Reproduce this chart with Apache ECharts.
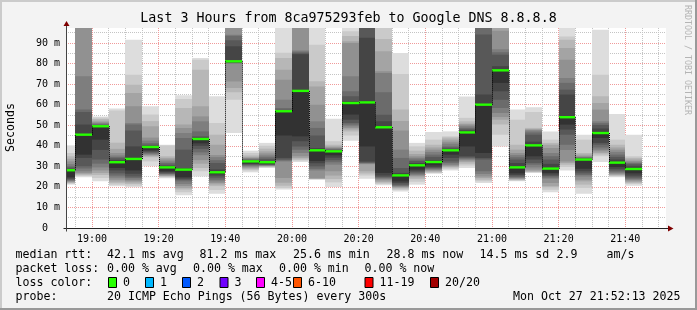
<!DOCTYPE html>
<html><head><meta charset="utf-8">
<script src="https://cdn.jsdelivr.net/npm/echarts@6/dist/echarts.min.js"></script>
<style>html,body{margin:0;padding:0;background:#f3f3f3}#c{width:697px;height:310px}</style>
</head><body><div id="c"></div>
<script>
const chartTitle = 'Last 3 Hours from 8ca975293feb to Google DNS 8.8.8.8';
const yAxisTitle = 'Seconds';
const sideText = 'RRDTOOL / TOBI OETIKER';
const xRange = ['18:52:13', '21:52:13'];
const yMax = 97.3;
const bucketMinutes = 5;
const bucketStarts = ['18:50','18:55','19:00','19:05','19:10','19:15','19:20','19:25','19:30','19:35','19:40','19:45','19:50','19:55',
  '20:00','20:05','20:10','20:15','20:20','20:25','20:30','20:35','20:40','20:45','20:50','20:55',
  '21:00','21:05','21:10','21:15','21:20','21:25','21:30','21:35','21:40'];
// 20 sorted ping RTTs (ms) per 5-minute step; index 10 is the median
const pings = [
  [21.1,21.5,21.9,22.2,22.5,22.9,23.2,23.6,24.1,24.7,28.1,28.7,29.4,30.0,31.1,32.4,33.7,34.9,36.5,40.2],
  [24.7,25.3,25.8,26.3,26.8,27.6,28.9,30.0,34.1,35.7,45.4,50.3,56.4,57.6,73.8,100,110,120,135,160],
  [22.7,24.3,25.8,26.7,28.0,29.5,31.3,33.3,38.0,43.0,49.5,49.8,50.1,50.5,51.0,51.5,52.2,53.0,53.8,54.3],
  [20.3,21.0,21.8,22.6,23.5,24.5,25.5,26.6,28.0,29.2,32.0,33.0,33.9,34.5,35.3,36.5,38.5,41.5,57.2,58.1],
  [19.8,20.6,21.4,22.1,22.7,23.5,24.3,25.1,26.4,28.0,33.6,39.7,47.4,50.3,51.1,59.2,65.7,69.7,74.6,91.6],
  [30.0,32.4,34.4,34.9,35.4,35.8,36.3,36.8,37.3,37.8,39.4,39.8,40.5,41.3,42.5,44.0,49.5,52.0,55.2,59.2],
  [24.2,24.7,25.0,25.3,25.6,26.0,26.3,26.6,27.1,27.6,29.5,30.2,30.8,31.6,32.4,33.3,34.1,34.9,40.2,40.5],
  [15.9,17.4,18.7,19.5,20.4,21.4,22.7,23.4,24.0,24.7,28.4,29.2,38.1,43.8,46.2,48.7,50.3,58.4,62.8,64.6],
  [25.1,27.6,29.2,31.3,33.0,35.4,36.8,38.5,40.0,41.2,43.3,44.0,44.6,47.0,51.9,54.3,59.2,77.0,81.9,82.7],
  [16.7,18.5,20.4,21.2,21.9,22.7,23.5,24.5,25.5,26.3,27.1,28.5,31.6,33.0,34.5,35.5,40.5,45.4,51.1,64.1],
  [46.2,62.4,66.0,68.1,71.3,80.0,80.2,80.4,80.6,80.8,81.1,88.4,91.3,93.5,94.0,100,105,110,115,120],
  [27.1,28.0,28.5,29.0,29.5,30.0,30.4,30.8,31.1,31.5,32.4,32.7,33.0,33.4,33.8,34.1,34.6,35.3,36.5,37.6],
  [29.2,29.5,29.8,30.0,30.2,30.4,30.6,30.8,31.0,31.3,32.0,32.6,33.6,34.4,35.3,36.3,37.3,38.6,40.0,41.4],
  [18.7,19.5,20.5,22.0,24.3,32.4,32.8,33.3,34.1,45.0,56.8,57.1,57.5,58.4,62.4,72.1,77.0,82.7,85.2,105],
  [32.1,32.8,33.3,34.1,34.9,36.5,38.1,39.7,42.2,44.6,66.7,84.5,85.0,85.7,86.3,100,105,110,115,120],
  [23.5,23.7,23.9,24.0,24.2,28.0,28.8,30.0,31.5,32.6,37.8,38.9,45.0,48.7,51.9,60.0,68.9,71.4,89.2,100],
  [20.0,22.2,23.8,25.5,27.6,30.8,32.0,33.0,34.2,35.4,37.3,37.6,38.0,38.3,38.8,39.2,39.7,40.5,42.2,53.2],
  [42.5,45.0,47.0,47.9,48.7,49.5,50.3,51.1,52.7,55.2,60.8,61.6,64.1,66.5,73.8,90.0,90.8,93.4,95.7,98.0],
  [24.0,25.5,26.5,27.6,31.0,31.3,31.6,31.9,32.4,39.7,61.1,92.5,100,105,110,115,120,125,130,135],
  [20.8,21.4,22.0,22.5,23.2,23.8,24.3,24.8,25.6,26.8,49.0,51.9,55.1,66.0,75.4,76.2,86.0,92.0,100,105],
  [17.8,18.5,19.1,19.5,19.9,20.3,20.6,21.1,21.9,22.7,25.6,26.8,29.2,34.1,38.1,47.4,52.0,57.6,74.9,85.1],
  [21.1,22.5,23.8,24.6,25.3,25.8,26.4,27.0,27.6,28.4,30.5,31.6,32.6,33.3,34.1,34.9,36.0,37.6,39.7,41.4],
  [26.4,26.8,27.1,27.6,28.0,28.4,28.8,29.2,29.7,30.5,32.1,33.0,34.6,35.7,37.0,38.1,39.2,40.5,43.0,46.7],
  [28.0,28.8,29.4,29.8,30.3,30.8,31.6,32.4,34.1,35.7,37.8,38.5,39.1,39.7,41.0,42.0,43.0,44.0,44.6,47.0],
  [29.2,30.4,31.3,32.1,32.8,33.3,33.8,34.3,34.9,39.7,46.5,47.4,48.0,48.7,49.5,50.3,50.8,51.9,53.6,64.0],
  [21.9,22.7,23.5,24.3,25.1,26.3,27.6,33.3,34.1,36.5,60.0,64.9,94.1,100,105,110,115,120,125,130],
  [39.7,45.4,50.3,52.7,54.0,56.0,58.4,62.4,66.5,70.6,76.7,78.7,84.3,85.5,87.0,96.0,100,105,110,115],
  [22.7,23.0,23.4,23.7,24.0,24.3,24.7,25.1,25.8,26.6,29.5,31.6,33.3,34.4,35.5,36.5,38.1,40.5,52.7,57.6],
  [26.8,27.1,27.4,27.6,28.4,29.5,30.8,31.6,33.3,34.9,40.2,42.0,45.4,46.5,47.4,47.8,48.2,48.7,56.4,58.7],
  [17.4,18.6,19.8,20.4,21.9,24.0,24.6,25.3,26.0,26.8,28.9,31.2,33.3,34.9,36.5,38.9,40.5,41.4,43.0,47.0],
  [28.0,29.7,30.8,31.6,32.4,38.0,40.5,45.4,47.9,50.3,53.9,64.9,67.3,70.6,73.0,81.9,87.6,91.6,93.2,100],
  [16.7,19.5,21.1,22.7,23.5,25.0,25.8,26.6,27.6,28.8,33.3,33.6,34.0,34.3,34.6,34.9,35.7,36.5,43.0,45.4],
  [32.1,34.9,35.7,36.5,37.3,38.1,39.2,40.5,41.4,43.8,46.2,48.4,50.1,51.0,51.9,57.6,60.8,64.1,74.6,96.5],
  [24.7,25.1,25.5,25.8,26.3,26.8,27.4,28.0,28.8,29.7,31.8,33.3,34.6,35.7,37.0,38.1,39.2,40.5,43.0,55.5],
  [20.6,21.4,21.9,22.4,23.0,23.5,24.0,24.6,25.5,26.6,28.7,30.0,31.0,31.5,31.9,32.6,33.3,34.1,34.9,45.4]
];
const smokeShades = ['#dddddd','#cacaca','#b7b7b7','#a4a4a4','#919191','#7e7e7e','#6b6b6b','#585858','#454545','#323232'];
const xMajorLabels = ['19:00','19:20','19:40','20:00','20:20','20:40','21:00','21:20','21:40'];
const yMajorTicks = [0,10,20,30,40,50,60,70,80,90];
const yMinorTicks = [5,15,25,35,45,55,65,75,85,95];
const lossLabels = ['0','1','2','3','4-5','6-10','11-19','20/20'];
const lossColors = ['#26ff00','#00b8ff','#0059ff','#7000ff','#ff00ff','#ff5500','#ff0000','#a10000'];
const rttStats = ['42.1 ms avg','81.2 ms max','25.6 ms min','28.8 ms now','14.5 ms sd','2.9','am/s'];
const lossStats = ['0.00 % avg','0.00 % max','0.00 % min','0.00 % now'];
const probeText = '20 ICMP Echo Pings (56 Bytes) every 300s';
const stampText = 'Mon Oct 27 21:52:13 2025';

const toMin = s => { const p = s.split(':').map(Number); return p[0]*60 + p[1] + (p[2]||0)/60; };
const fmtMin = m => { const h = Math.floor(m/60), mm = Math.round(m - h*60); return String(h).padStart(2,'0') + ':' + String(mm).padStart(2,'0'); };
const xMin = toMin(xRange[0]), xMax = toMin(xRange[1]);
const xMajor = xMajorLabels.map(toMin);
const xMinor = [];
for (let m = toMin('18:55'); m <= toMin('21:50'); m += 5) if (xMajor.indexOf(m) < 0) xMinor.push(m);

const seriesData = bucketStarts.map((s, i) => [toMin(s), toMin(s) + bucketMinutes].concat(pings[i]));

const MONO = '"DejaVu Sans Mono", monospace';
const LEG = '11.6px ' + MONO;

function renderBucket(params, api) {
  const cs = params.coordSys;
  const s = api.value(0), e = api.value(1);
  let x0 = Math.round(api.coord([s, 0])[0]);
  let x1 = Math.round(api.coord([e, 0])[0]);
  x0 = Math.max(x0, Math.round(cs.x) + 1);
  x1 = Math.min(x1, Math.round(cs.x + cs.width));
  if (x1 <= x0) return null;
  const yOf = v => api.coord([s, Math.max(0, Math.min(yMax, v))])[1];
  const kids = [];
  for (let k = 0; k < 10; k++) {
    const lo = api.value(2 + k), hi = api.value(21 - k);
    const ya = yOf(hi), yb = yOf(lo);
    if (yb - ya <= 0) continue;
    kids.push({type: 'rect', shape: {x: x0, y: ya, width: x1 - x0, height: yb - ya}, style: {fill: smokeShades[k]}});
  }
  const ym = yOf(api.value(12));
  kids.push({type: 'line', shape: {x1: x0, y1: ym, x2: x1, y2: ym}, style: {stroke: lossColors[0], lineWidth: 2.4}});
  if (params.dataIndex > 0) {
    const yp = yOf(pings[params.dataIndex - 1][10]);
    kids.push({type: 'line', shape: {x1: x0 + 0.5, y1: yp, x2: x0 + 0.5, y2: ym}, style: {stroke: '#000', lineWidth: 1, lineDash: [1, 1]}});
  }
  return {type: 'group', children: kids};
}

function txt(text, x, y, opt) {
  opt = opt || {};
  return {type: 'text', x: x, y: y, rotation: opt.rot || 0, silent: true, z: 10,
    style: {text: text, font: opt.font || LEG, fill: opt.fill || '#000',
      textAlign: opt.align || 'left', align: opt.align || 'left',
      textVerticalAlign: 'middle', verticalAlign: 'middle'}};
}

const graphics = [];
// frame
graphics.push({type:'rect', shape:{x:0,y:0,width:697,height:2}, style:{fill:'#cbcbcb'}, silent:true});
graphics.push({type:'rect', shape:{x:0,y:0,width:2,height:310}, style:{fill:'#cbcbcb'}, silent:true});
graphics.push({type:'rect', shape:{x:0,y:308,width:697,height:2}, style:{fill:'#999999'}, silent:true});
graphics.push({type:'rect', shape:{x:695,y:0,width:2,height:310}, style:{fill:'#999999'}, silent:true});
graphics.push(txt(chartTitle, 348.5, 19, {font: '13.3px ' + MONO, align: 'center'}));
graphics.push(txt(yAxisTitle, 10.5, 127.5, {rot: Math.PI/2, align: 'center'}));
graphics.push(txt(sideText, 687, 60, {rot: -Math.PI/2, align: 'center', font: '8.3px ' + MONO, fill: '#b4b4b4'}));
// legend lines
const rttX = [107, 199.5, 293, 386.5, 479.5, 556.5, 606.5];
graphics.push(txt('median rtt:', 15.5, 254.5));
rttStats.forEach((t, i) => graphics.push(txt(t, rttX[i], 254.5)));
const lossX = [107, 193, 279, 364.5];
graphics.push(txt('packet loss:', 15.5, 268.5));
lossStats.forEach((t, i) => graphics.push(txt(t, lossX[i], 268.5)));
graphics.push(txt('loss color:', 15.5, 282.5));
const boxX = [108.5, 145.5, 182.5, 220, 256.5, 293.5, 365, 430.5];
lossLabels.forEach((t, i) => {
  graphics.push({type:'rect', shape:{x: boxX[i], y: 277.5, width: 8, height: 10}, style:{fill: lossColors[i], stroke:'#000', lineWidth:1}, silent:true, z:10});
  graphics.push(txt(t, boxX[i] + 14.5, 282.5));
});
graphics.push(txt('probe:', 15.5, 296.5));
graphics.push(txt(probeText, 107, 296.5));
graphics.push(txt(stampText, 680.5, 296.5, {align: 'right'}));

const chart = echarts.init(document.getElementById('c'), null, {renderer: 'canvas'});
const redGrid = {show: true, lineStyle: {color: '#f09a9a', width: 1, type: [1, 1]}};
const grayGrid = {show: true, lineStyle: {color: '#c4c4c4', width: 1, type: [1, 1]}};
chart.setOption({
  animation: false,
  backgroundColor: '#f3f3f3',
  grid: {left: 66, top: 28, width: 600, height: 200, show: true, backgroundColor: '#ffffff', borderWidth: 0},
  xAxis: [
    {type: 'value', min: xMin, max: xMax, position: 'bottom',
      axisLine: {show: true, lineStyle: {color: '#222', width: 1}},
      axisTick: {show: false, customValues: xMajor},
      axisLabel: {show: true, customValues: xMajor, formatter: v => fmtMin(v), margin: 6,
        fontFamily: 'DejaVu Sans Mono', fontSize: 10, color: '#000'},
      splitLine: redGrid},
    {type: 'value', min: xMin, max: xMax, position: 'bottom',
      axisLine: {show: false}, axisTick: {show: false, customValues: xMinor},
      axisLabel: {show: false}, splitLine: grayGrid}
  ],
  yAxis: [
    {type: 'value', min: 0, max: yMax, position: 'left',
      axisLine: {show: true, lineStyle: {color: '#444', width: 1}},
      axisTick: {show: false, customValues: yMajorTicks},
      axisLabel: {show: true, customValues: yMajorTicks, formatter: v => v === 0 ? '0  ' : v + ' m', margin: 6,
        fontFamily: 'DejaVu Sans Mono', fontSize: 10, color: '#000'},
      splitLine: redGrid},
    {type: 'value', min: 0, max: yMax, position: 'left',
      axisLine: {show: false}, axisTick: {show: false, customValues: yMinorTicks},
      axisLabel: {show: false}, splitLine: grayGrid}
  ],
  series: [{
    type: 'custom', coordinateSystem: 'cartesian2d', xAxisIndex: 0, yAxisIndex: 0,
    renderItem: renderBucket, data: seriesData, silent: true, z: 3
  }],
  graphic: graphics
});

// axis overshoots and arrows
const o = chart.convertToPixel({xAxisIndex: 0, yAxisIndex: 0}, [xMin, 0]);
const r = chart.convertToPixel({xAxisIndex: 0, yAxisIndex: 0}, [xMax, yMax]);
const ax = Math.round(o[0]) + 0.5, ay = Math.round(o[1]) + 0.5;
const rx = Math.round(r[0]), ty = Math.round(r[1]);
graphics.push({type:'line', shape:{x1: ax - 3, y1: ay, x2: rx + 2, y2: ay}, style:{stroke:'#222', lineWidth:1}, silent:true, z:10});
graphics.push({type:'line', shape:{x1: ax, y1: ay + 3, x2: ax, y2: ty - 2}, style:{stroke:'#444', lineWidth:1}, silent:true, z:10});
graphics.push({type:'polygon', shape:{points:[[rx + 2, ay - 3], [rx + 7.5, ay], [rx + 2, ay + 3]]}, style:{fill:'#7f0000'}, silent:true, z:10});
graphics.push({type:'polygon', shape:{points:[[ax - 3, ty - 2], [ax, ty - 7], [ax + 3, ty - 2]]}, style:{fill:'#7f0000'}, silent:true, z:10});
chart.setOption({graphic: graphics});
</script></body></html>
